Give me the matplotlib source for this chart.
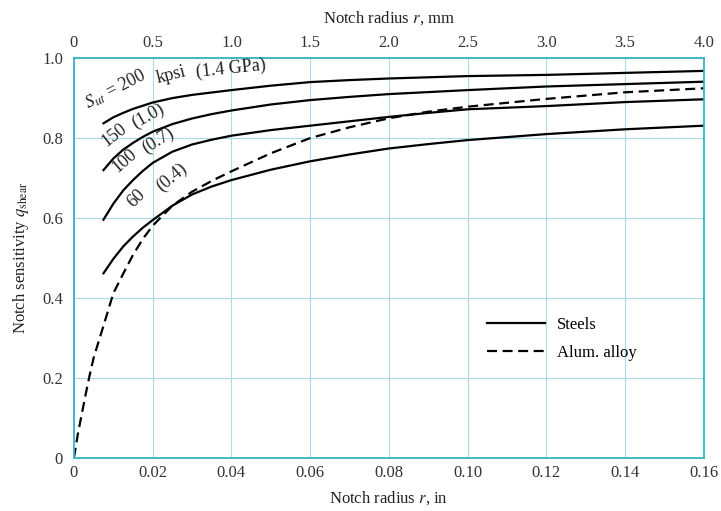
import numpy as np
import matplotlib
matplotlib.use('Agg')
import matplotlib.pyplot as plt

plt.rcParams['font.family'] = 'Liberation Serif'
plt.rcParams['mathtext.fontset'] = 'stix'

# notch radius (in) and notch sensitivity
r_steel = [0.0075, 0.010, 0.0125, 0.015, 0.0175, 0.020, 0.025, 0.030, 0.035, 0.040, 0.050,
           0.060, 0.070, 0.080, 0.090, 0.100, 0.120, 0.140, 0.160]
q_200 = [0.836, 0.851, 0.862, 0.872, 0.880, 0.888, 0.899, 0.907, 0.913, 0.919, 0.930,
         0.939, 0.944, 0.948, 0.951, 0.954, 0.957, 0.962, 0.967]
q_150 = [0.719, 0.748, 0.770, 0.787, 0.802, 0.815, 0.834, 0.848, 0.859, 0.868, 0.883,
         0.894, 0.902, 0.909, 0.914, 0.919, 0.928, 0.934, 0.940]
q_100 = [0.595, 0.635, 0.668, 0.694, 0.717, 0.737, 0.765, 0.783, 0.795, 0.805, 0.819,
         0.830, 0.841, 0.852, 0.862, 0.871, 0.879, 0.889, 0.896]
q_60 = [0.461, 0.497, 0.528, 0.553, 0.575, 0.594, 0.630, 0.658, 0.678, 0.694, 0.720,
        0.741, 0.758, 0.773, 0.784, 0.794, 0.809, 0.821, 0.830]

r_alum = [0.0, 0.001, 0.002, 0.003, 0.004, 0.005, 0.0075, 0.010, 0.0125,
          0.015, 0.0175, 0.020, 0.025, 0.030, 0.035, 0.040, 0.050, 0.060, 0.070,
          0.080, 0.090, 0.100, 0.120, 0.140, 0.160]
q_alum = [0.0, 0.06, 0.11, 0.16, 0.207, 0.25, 0.33, 0.411, 0.460,
          0.507, 0.547, 0.580, 0.630, 0.665, 0.692, 0.716, 0.761, 0.799, 0.826,
          0.8485, 0.865, 0.8775, 0.897, 0.9135, 0.9235]

x_ticks_in = [0, 0.02, 0.04, 0.06, 0.08, 0.10, 0.12, 0.14, 0.16]
x_labels_in = ['0', '0.02', '0.04', '0.06', '0.08', '0.10', '0.12', '0.14', '0.16']
x_ticks_mm = [0, 0.5, 1.0, 1.5, 2.0, 2.5, 3.0, 3.5, 4.0]
x_labels_mm = ['0', '0.5', '1.0', '1.5', '2.0', '2.5', '3.0', '3.5', '4.0']
y_ticks = [0, 0.2, 0.4, 0.6, 0.8, 1.0]
y_labels = ['0', '0.2', '0.4', '0.6', '0.8', '1.0']

spine_col = '#35b4c6'
grid_col = '#a9d9ea'

fig = plt.figure(figsize=(7.21, 5.11), dpi=100)
ax = fig.add_axes([0.1026, 0.1043, 0.8735, 0.7828])

ax.plot(r_steel, q_200, 'k', lw=1.6, label='Steels')
ax.plot(r_steel, q_150, 'k', lw=1.6)
ax.plot(r_steel, q_100, 'k', lw=1.6)
ax.plot(r_steel, q_60, 'k', lw=1.6)
ax.plot(r_alum, q_alum, 'k', lw=1.6, dashes=(4.5, 2.5), label='Alum. alloy')

ax.set_xlim(0, 0.16)
ax.set_ylim(0, 1.0)
ax.set_xticks(x_ticks_in)
ax.set_xticklabels(x_labels_in)
ax.set_yticks(y_ticks)
ax.set_yticklabels(y_labels)
ax.tick_params(length=0, labelsize=12, colors='#333333')
ax.tick_params(axis='x', pad=5)
ax.tick_params(axis='y', pad=8)
ax.grid(True, color=grid_col, lw=0.8)
ax.set_axisbelow(True)
for s in ax.spines.values():
    s.set_color(spine_col)
    s.set_linewidth(1.3)
ax.set_xlabel('Notch radius $r$, in', fontsize=12, labelpad=6, color='#222222')
ax.set_ylabel('Notch sensitivity $q_{\\rm shear}$', fontsize=12, labelpad=8, color='#222222')

ax2 = ax.twiny()
ax2.set_xlim(0, 4.0)
ax2.set_xticks(x_ticks_mm)
ax2.set_xticklabels(x_labels_mm)
ax2.tick_params(length=0, labelsize=12, colors='#333333', pad=5)
for s in ax2.spines.values():
    s.set_visible(False)
ax2.set_xlabel('Notch radius $r$, mm', fontsize=12, labelpad=9, color='#222222')

# curve labels
lab = dict(fontsize=13, rotation_mode='anchor', ha='left', va='baseline', color='#222222')
ax.text(0.0036, 0.872, '$S_{ut}$ = 200', rotation=27, **lab)
ax.text(0.0212, 0.937, 'kpsi', rotation=14, **lab)
ax.text(0.0312, 0.951, '(1.4 GPa)', rotation=6, **lab)
ax.text(0.0082, 0.777, '150', rotation=38, **lab)
ax.text(0.0155, 0.822, '(1.0)', rotation=29, **lab)
ax.text(0.0111, 0.711, '100', rotation=41, **lab)
ax.text(0.0182, 0.760, '(0.7)', rotation=32, **lab)
ax.text(0.0150, 0.624, '60', rotation=45, **lab)
ax.text(0.0222, 0.664, '(0.4)', rotation=40, **lab)

ax.legend(loc='upper left', bbox_to_anchor=(0.632, 0.39), frameon=False,
          fontsize=12, handlelength=3.5, handletextpad=0.7, labelspacing=0.75)

fig.savefig('out.png', dpi=100)
